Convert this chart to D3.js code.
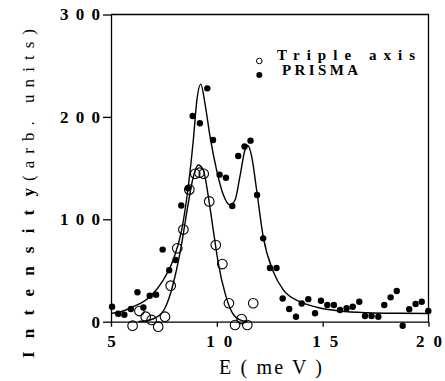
<!DOCTYPE html>
<html>
<head>
<meta charset="utf-8">
<script src="https://cdn.jsdelivr.net/npm/d3@7"></script>
<style>
    body { margin: 0; background: white; }
    svg { display: block; }
</style>
</head>
<body>
<div id="chart"></div>
<script>
// Data
const prismaE = [5.05, 5.34, 5.63, 5.94, 6.25, 6.53, 6.83, 7.13, 7.44, 7.75, 8.05, 8.32, 8.64, 8.86, 9.20, 9.55,
    9.82, 10.13, 10.43, 10.73, 11.01, 11.31, 11.59, 11.90, 12.19, 12.51, 12.82, 13.11, 13.42, 13.74, 14.01, 14.32,
    14.64, 14.92, 15.22, 15.53, 15.82, 16.13, 16.42, 16.73, 17.00, 17.31, 17.63, 17.91, 18.21, 18.50, 18.78, 19.09,
    19.39, 19.68, 19.99];
const prismaI = [14.6, 7.7, 6.8, 12.4, 28.7, 13.9, 25.4, 26.4, 70.4, 50.2, 60.3, 113.5, 130.3, 200.9, 193.8, 227.9,
    177.4, 143.6, 140.6, 113.0, 161.8, 171.1, 176.8, 123.7, 81.4, 52.4, 52.4, 22.6, 12.4, 4.9, 17.8, 22.0,
    8.2, 20.4, 16.3, 16.3, 11.4, 13.1, 14.6, 19.5, 5.6, 5.6, 4.9, 16.3, 23.8, 30.0, -3.9, 12.1,
    17.3, 19.5, 10.4];

const tripleE = [6.02, 6.34, 6.64, 6.92, 7.23, 7.55, 7.82, 8.13, 8.42, 8.70, 8.98, 9.18, 9.38, 9.64, 9.95, 10.26,
    10.57, 10.86, 11.17, 11.44, 11.72];
const tripleI = [-3.9, 10.4, 4.9, 1.7, -4.9, 4.9, 35.2, 71.7, 90.0, 129.0, 144.5, 145.5, 144.5, 117.5, 74.9, 56.3,
    18.0, -3.2, 2.6, -3.2, 18.0];

// Fitted curves
const prismaFitE = [5.0, 5.5, 6.05, 6.84, 7.47, 7.94, 8.34, 8.65, 8.89, 9.05, 9.24, 9.44, 9.68, 9.99, 10.28, 10.62,
    10.86, 11.09, 11.33, 11.46, 11.65, 11.88, 12.19, 12.67, 13.14, 13.93, 14.72, 15.82, 17.08, 18.65, 20.0];
const prismaFitI = [8.0, 10.0, 14.6, 24.4, 40.7, 60.3, 89.6, 131.8, 177.4, 215.0, 232.0, 213.0, 180.7, 148.0, 125.4, 114.0,
    118.8, 141.6, 167.7, 172.0, 161.0, 128.6, 83.0, 48.8, 31.0, 19.5, 14.1, 10.4, 8.8, 8.2, 8.0];

const tripleFitE = [6.3, 6.84, 7.39, 7.71, 8.02, 8.34, 8.65, 8.89, 9.12, 9.36, 9.60, 9.83, 10.07, 10.39, 10.70,
    11.09, 11.45];
const tripleFitI = [0.2, 1.7, 8.2, 21.2, 43.9, 76.6, 115.6, 141.6, 153.0, 148.1, 122.0, 89.6, 57.0, 27.7, 9.8,
    1.7, 0.0];

const xTicks = [5, 10, 15, 20];
const yTicks = [0, 100, 200, 300];
const legendLabels = ['Triple axis', 'PRISMA'];

// Constants
const WIDTH = 445;
const HEIGHT = 381;
const LEFT = 111;
const RIGHT = 428.5;
const TOP = 14.5;
const BOTTOM = 321.7;
const SERIF = '"Liberation Serif", "Times New Roman", serif';

const svg = d3.select('#chart')
    .append('svg').attr('width', WIDTH).attr('height', HEIGHT);

const x = d3.scaleLinear().domain([5, 20]).range([LEFT, RIGHT]);
const y = d3.scaleLinear().domain([0, 300]).range([BOTTOM, TOP]);

// Frame (top and right sides)
svg.append('path')
    .attr('d', `M${LEFT},${TOP}H${RIGHT}V${BOTTOM}`)
    .attr('fill', 'none')
    .attr('stroke', 'black')
    .attr('stroke-width', 1.3);

// Axes
const xAxis = d3.axisBottom(x).tickValues(xTicks).tickSize(5).tickPadding(8).tickSizeOuter(0);
const yAxis = d3.axisLeft(y).tickValues(yTicks).tickSize(8).tickPadding(3).tickSizeOuter(0);

const gx = svg.append('g')
    .attr('transform', `translate(0,${BOTTOM})`)
    .call(xAxis);
const gy = svg.append('g')
    .attr('transform', `translate(${LEFT},0)`)
    .call(yAxis);

[gx, gy].forEach(g => {
    g.selectAll('path, line').attr('stroke', 'black').attr('stroke-width', 1.3);
    g.selectAll('text')
        .attr('fill', 'black')
        .style('font-family', SERIF)
        .style('font-weight', 'bold')
        .style('font-size', '17px')
        // the scanned labels are spread wide
        .attr('textLength', d => String(d).length === 1 ? 9.5 : (String(d).length * 14 - 2));
});
gx.selectAll('text').attr('dx', d => d == 10 || d == 15 ? 2 : 0);

// Fit curves
const line = d3.line()
    .x(d => x(d[0]))
    .y(d => y(d[1]))
    .curve(d3.curveMonotoneX);

svg.append('path')
    .datum(d3.zip(prismaFitE, prismaFitI))
    .attr('d', line)
    .attr('fill', 'none')
    .attr('stroke', 'black')
    .attr('stroke-width', 1.4);

svg.append('path')
    .datum(d3.zip(tripleFitE, tripleFitI))
    .attr('d', line)
    .attr('fill', 'none')
    .attr('stroke', 'black')
    .attr('stroke-width', 1.4);

// Triple axis points (open circles)
svg.append('g')
    .selectAll('circle')
    .data(d3.zip(tripleE, tripleI))
    .join('circle')
    .attr('cx', d => x(d[0]))
    .attr('cy', d => y(d[1]))
    .attr('r', 4.8)
    .attr('fill', 'none')
    .attr('stroke', 'black')
    .attr('stroke-width', 1.1);

// PRISMA points (filled)
svg.append('g')
    .selectAll('circle')
    .data(d3.zip(prismaE, prismaI))
    .join('circle')
    .attr('cx', d => x(d[0]))
    .attr('cy', d => y(d[1]))
    .attr('r', 3.2)
    .attr('fill', 'black');

// Legend
const legend = svg.append('g');
legend.append('circle')
    .attr('cx', 259.3).attr('cy', 61).attr('r', 2.8)
    .attr('fill', 'none').attr('stroke', 'black').attr('stroke-width', 1);
legend.append('circle')
    .attr('cx', 259.3).attr('cy', 75).attr('r', 3)
    .attr('fill', 'black');
legend.selectAll('text')
    .data(legendLabels)
    .join('text')
    .text(d => d)
    .attr('x', (d, i) => i === 0 ? 277 : 282)
    .attr('y', (d, i) => i === 0 ? 60 : 75)
    .attr('textLength', (d, i) => i === 0 ? 138 : 76)
    .style('font-family', SERIF)
    .style('font-weight', 'bold')
    .style('font-size', '15px');

// Axis titles
svg.append('text')
    .text('E ( me V )')
    .attr('x', 219)
    .attr('y', 374)
    .attr('textLength', 103)
    .style('font-family', SERIF)
    .style('font-size', '20px');

svg.append('text')
    .text('Intensity')
    .attr('transform', 'translate(33.5,358) rotate(-90)')
    .attr('textLength', 170)
    .style('font-family', SERIF)
    .style('font-weight', 'bold')
    .style('font-size', '17px');

svg.append('text')
    .text('(arb. units)')
    .attr('transform', 'translate(33.5,181) rotate(-90)')
    .attr('textLength', 152)
    .style('font-family', SERIF)
    .style('font-size', '17px');
</script>
</body>
</html>
